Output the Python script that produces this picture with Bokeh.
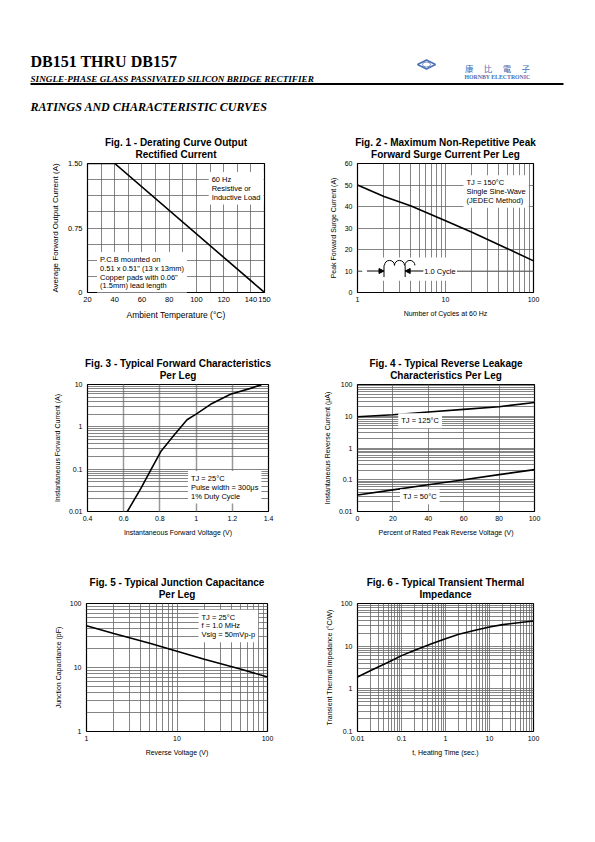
from math import pi
from bokeh.plotting import figure
from bokeh.layouts import column, row
from bokeh.models import (Range1d, FixedTicker, Label, Title, Arrow, NormalHead,
                          CustomJSTickFormatter, BoxAnnotation)
from bokeh.embed import file_html
from bokeh.resources import INLINE
from bokeh.core.properties import value

SANS = "Liberation Sans"
SERIF = "Liberation Serif"

# ---------------- data ----------------
# Fig. 1 derating curve
fig1_temp = [20, 40, 150]
fig1_current = [1.5, 1.5, 0.0]
fig1_x_ticks = [20, 40, 60, 80, 100, 120, 140, 150]
fig1_y_ticks = [0, 0.75, 1.5]
fig1_y_labels = ["0", "0.75", "1.50"]

# Fig. 2 surge current
fig2_cycles = [1, 2, 4, 10, 20, 50, 100]
fig2_surge = [50, 44.7, 40.3, 33.4, 28.0, 20.5, 14.7]
fig2_y_ticks = [0, 10, 20, 30, 40, 50, 60]
cycle_hump_x = [2.31, 3.0, 3.94]
cycle_bar_x = [2.0, 3.48]

# Fig. 3 forward characteristics
fig3_voltage = [0.62, 0.695, 0.75, 0.805, 0.88, 0.95, 1.0, 1.08, 1.19, 1.30, 1.36]
fig3_current = [0.01, 0.035, 0.096, 0.26, 0.65, 1.47, 2.0, 3.4, 5.9, 8.1, 9.8]
fig3_x_ticks = [0.4, 0.6, 0.8, 1.0, 1.2, 1.4]
fig3_y_ticks = [0.01, 0.1, 1, 10]

# Fig. 4 reverse leakage
fig4_percent = [0, 20, 40, 60, 80, 100]
fig4_i_125 = [9.6, 11.2, 13.6, 16.5, 20.0, 27.0]
fig4_i_50 = [0.033, 0.048, 0.070, 0.100, 0.145, 0.209]
fig4_x_ticks = [0, 20, 40, 60, 80, 100]
fig4_y_ticks = [0.01, 0.1, 1, 10, 100]

# Fig. 5 junction capacitance
fig5_voltage = [1, 2, 5, 10, 20, 50, 100]
fig5_cap = [45, 34, 24, 18, 13.5, 9.5, 7.1]
fig5_x_ticks = [1, 10, 100]
fig5_y_ticks = [1, 10, 100]

# Fig. 6 transient thermal impedance
fig6_time = [0.01, 0.02, 0.05, 0.1, 0.2, 0.5, 1, 2, 5, 10, 20, 50, 100]
fig6_z = [1.9, 2.7, 4.2, 6.0, 8.0, 11.5, 15.0, 19.0, 24.0, 28.0, 32.0, 36.0, 39.0]
fig6_x_ticks = [0.01, 0.1, 1, 10, 100]
fig6_y_ticks = [0.1, 1, 10, 100]

OFF = 8  # page offset so the content sits where the reference has it


def log_grid(lo_exp, hi_exp):
    vals = []
    for e in range(lo_exp, hi_exp):
        for m in range(1, 10):
            vals.append(round(m * 10 ** e, 6))
    vals.append(10 ** hi_exp if hi_exp >= 0 else round(10 ** hi_exp, 6))
    return vals


FMT = CustomJSTickFormatter(code="return String(Number(tick.toPrecision(6)));")


def make_fig(width, height, left, right, top, bottom, xr, yr, x_type="linear",
             y_type="linear", tick_size="7px", label_size="7px"):
    p = figure(width=width, height=height, x_range=xr, y_range=yr,
               x_axis_type=x_type, y_axis_type=y_type, output_backend="svg",
               toolbar_location=None, min_border_left=left, min_border_right=right,
               min_border_top=top, min_border_bottom=bottom)
    p.outline_line_color = "black"
    p.outline_line_width = 1.2
    p.outline_line_alpha = 1.0
    p.background_fill_color = "white"
    p.border_fill_color = "white"
    for ax in (p.xaxis[0], p.yaxis[0]):
        ax.axis_line_color = None
        ax.major_tick_line_color = None
        ax.minor_tick_line_color = None
        ax.major_tick_out = 0
        ax.major_tick_in = 0
        ax.minor_tick_out = 0
        ax.minor_tick_in = 0
        ax.major_label_text_font = SANS
        ax.major_label_text_font_size = tick_size
        ax.major_label_text_color = "black"
        ax.axis_label_text_font = SANS
        ax.axis_label_text_font_style = "normal"
        ax.axis_label_text_font_size = label_size
        ax.axis_label_text_color = "black"
    p.xaxis[0].major_label_standoff = 4
    p.yaxis[0].major_label_standoff = 5
    p.xaxis[0].axis_label_standoff = 5
    p.yaxis[0].axis_label_standoff = 5
    for g in (p.xgrid[0], p.ygrid[0]):
        g.grid_line_color = "#666666"
        g.grid_line_width = 0.8
    return p


def add_titles(p, lines):
    # lower line first (closest to the frame), then the upper line
    p.add_layout(Title(text=lines[1], align="center", text_font=SANS,
                       text_font_size="10px", text_font_style="bold",
                       text_color="black", standoff=7, offset=0), "above")
    p.add_layout(Title(text=lines[0], align="center", text_font=SANS,
                       text_font_size="10px", text_font_style="bold",
                       text_color="black", standoff=-8, offset=0), "above")


def box_label(p, x, y, text, size="7.5px", anchor="top_left"):
    lab = Label(x=x, y=y, text=text, text_font=SANS, text_font_size=size,
                text_color="black", anchor=anchor, text_align="left",
                background_fill_color="white", background_fill_alpha=1.0,
                padding=3, text_line_height=0.97)
    p.add_layout(lab)
    return lab


# ---------------- header ----------------
head = figure(width=587, height=128, x_range=Range1d(0, 587), y_range=Range1d(128, 0),
              output_backend="svg", toolbar_location=None, min_border=0)
head.axis.visible = False
head.grid.visible = False
head.outline_line_color = None
head.text(x=[30], y=[61], text=["DB151 THRU DB157"], text_font=value(SERIF),
          text_font_size="16px", text_font_style="bold", text_baseline="alphabetic")
head.text(x=[30], y=[78.3], text=["SINGLE-PHASE GLASS PASSIVATED SILICON BRIDGE RECTIFIER"],
          text_font=value(SERIF), text_font_size="9.2px", text_font_style="bold italic",
          text_baseline="alphabetic")
head.segment(x0=[30], y0=[83.5], x1=[563], y1=[83.5], line_color="black", line_width=2)
head.text(x=[30], y=[106.7], text=["RATINGS AND CHARACTERISTIC CURVES"],
          text_font=value(SERIF), text_font_size="12px", text_font_style="bold italic",
          text_baseline="alphabetic")
head.patch([417, 426, 435, 426], [64, 59.5, 64, 68.5], fill_color=None,
           line_color="#4a6fb5", line_width=1.5)
head.ellipse(x=[426], y=[64], width=8, height=5, fill_color=None, line_color="#4a6fb5",
             line_width=0.8)
head.text(x=[497], y=[67.5], text=["康　 比　 電　 子"], text_font=value("Noto Sans CJK TC"),
          text_font_size="8.5px", text_color="#4a6fb5", text_align="center",
          text_baseline="alphabetic")
head.text(x=[497], y=[76], text=["HORNBY ELECTRONIC"], text_font=value(SERIF),
          text_font_size="5.8px", text_font_style="bold", text_color="#4a6fb5",
          text_align="center", text_baseline="alphabetic")

# ---------------- Fig. 1 ----------------
f1 = make_fig(292 + OFF, 220, 79 + OFF, 36, 34, 56, Range1d(20, 150), Range1d(0, 1.5),
              tick_size="7.5px", label_size="8px")
f1.xaxis[0].ticker = FixedTicker(ticks=fig1_x_ticks)
f1.yaxis[0].ticker = FixedTicker(ticks=fig1_y_ticks)
f1.yaxis[0].major_label_overrides = dict(zip(fig1_y_ticks, fig1_y_labels))
f1.xgrid[0].ticker = FixedTicker(ticks=list(range(20, 151, 10)))
f1.ygrid[0].ticker = FixedTicker(ticks=[i * 0.1875 for i in range(9)])
f1.xaxis[0].axis_label = "Ambient Temperature (°C)"
f1.xaxis[0].axis_label_text_font_size = "8.5px"
f1.yaxis[0].axis_label = "Average Forward Output Current (A)"
f1.line(fig1_temp, fig1_current, line_color="black", line_width=1.6)
box_label(f1, 109, 1.40, "60 Hz\nResistive or\nInductive Load")
box_label(f1, 27, 0.47, "P.C.B mounted on\n0.51 x 0.51\" (13 x 13mm)\nCopper pads with 0.06\"\n(1.5mm) lead length")
add_titles(f1, ["Fig. 1 - Derating Curve Output", "Rectified Current"])

# ---------------- Fig. 2 ----------------
f2 = make_fig(287, 220, 57, 54, 35, 53, Range1d(1, 100), Range1d(0, 60), x_type="log")
f2.xaxis[0].ticker = FixedTicker(ticks=[1, 10, 100])
f2.xaxis[0].formatter = FMT
f2.yaxis[0].ticker = FixedTicker(ticks=fig2_y_ticks)
f2.xgrid[0].ticker = FixedTicker(ticks=log_grid(0, 2))
f2.xaxis[0].axis_label = "Number of Cycles at 60 Hz"
f2.yaxis[0].axis_label = "Peak Forward Surge Current (A)"
f2.add_layout(BoxAnnotation(left=1.13, right=13.5, bottom=5.5, top=16.3, fill_color="white",
                            fill_alpha=1.0, line_color=None, level="underlay"))
f2.segment(x0=[1.0, 13.5], y0=[10, 10], x1=[1.13, 100], y1=[10, 10], line_color="#666666",
           line_width=0.8)
f2.line(fig2_cycles, fig2_surge, line_color="black", line_width=1.6)
f2.arc(x=cycle_hump_x, y=12.6, radius=5, radius_units="screen", start_angle=0,
       end_angle=pi, line_color="black", line_width=1)
f2.segment(x0=cycle_bar_x, y0=7.2, x1=cycle_bar_x, y1=12.6, line_color="black", line_width=1)
f2.add_layout(Arrow(end=NormalHead(size=5, fill_color="black", line_color="black"),
                    x_start=1.28, y_start=10, x_end=cycle_bar_x[0], y_end=10,
                    line_color="black", line_width=1))
f2.add_layout(Arrow(end=NormalHead(size=5, fill_color="black", line_color="black"),
                    x_start=5.6, y_start=10, x_end=cycle_bar_x[1], y_end=10,
                    line_color="black", line_width=1))
f2.add_layout(Label(x=5.75, y=10, text="1.0 Cycle", text_font=SANS, text_font_size="7.5px",
                    text_baseline="middle", text_color="black"))
box_label(f2, 16.0, 54.5, "TJ = 150°C\nSingle Sine-Wave\n(JEDEC Method)")
add_titles(f2, ["Fig. 2 - Maximum Non-Repetitive Peak", "Forward Surge Current Per Leg"])

# ---------------- Fig. 3 ----------------
f3 = make_fig(292 + OFF, 215, 79 + OFF, 32, 36, 51, Range1d(0.4, 1.4), Range1d(0.01, 10),
              y_type="log")
f3.xaxis[0].ticker = FixedTicker(ticks=fig3_x_ticks)
f3.yaxis[0].ticker = FixedTicker(ticks=fig3_y_ticks)
f3.yaxis[0].formatter = FMT
f3.xgrid[0].ticker = FixedTicker(ticks=[0.6, 0.8, 1.0, 1.2])
f3.xgrid[0].grid_line_color = "#999999"
f3.xgrid[0].grid_line_width = 1.5
f3.ygrid[0].ticker = FixedTicker(ticks=log_grid(-2, 1))
f3.xaxis[0].axis_label = "Instantaneous Forward Voltage (V)"
f3.yaxis[0].axis_label = "Instantaneous Forward Current (A)"
f3.line(fig3_voltage, fig3_current, line_color="black", line_width=1.6)
box_label(f3, 0.955, 0.09, "TJ = 25°C\nPulse width = 300μs\n1% Duty Cycle")
add_titles(f3, ["Fig. 3 - Typical Forward Characteristics", "Per Leg"])

# ---------------- Fig. 4 ----------------
f4 = make_fig(287, 215, 57, 53, 35, 52, Range1d(0, 100), Range1d(0.01, 100), y_type="log")
f4.xaxis[0].ticker = FixedTicker(ticks=fig4_x_ticks)
f4.yaxis[0].ticker = FixedTicker(ticks=fig4_y_ticks)
f4.yaxis[0].formatter = FMT
f4.xgrid[0].ticker = FixedTicker(ticks=[20, 40, 60, 80])
f4.ygrid[0].ticker = FixedTicker(ticks=log_grid(-2, 2))
f4.xaxis[0].axis_label = "Percent of Rated Peak Reverse Voltage (V)"
f4.yaxis[0].axis_label = "Instantaneous Reverse Current (μA)"
f4.line(fig4_percent, fig4_i_125, line_color="black", line_width=1.6)
f4.line(fig4_percent, fig4_i_50, line_color="black", line_width=1.6)
box_label(f4, 23, 7.2, "TJ = 125°C", anchor="center_left")
box_label(f4, 24, 0.0294, "TJ = 50°C", anchor="center_left")
add_titles(f4, ["Fig. 4 - Typical Reverse Leakage", "Characteristics Per Leg"])

# ---------------- Fig. 5 ----------------
f5 = make_fig(292 + OFF, 210, 78 + OFF, 33, 40, 41, Range1d(1, 100), Range1d(1, 100),
              x_type="log", y_type="log")
f5.xaxis[0].ticker = FixedTicker(ticks=fig5_x_ticks)
f5.yaxis[0].ticker = FixedTicker(ticks=fig5_y_ticks)
f5.xaxis[0].formatter = FMT
f5.yaxis[0].formatter = FMT
f5.xgrid[0].ticker = FixedTicker(ticks=log_grid(0, 2))
f5.ygrid[0].ticker = FixedTicker(ticks=log_grid(0, 2))
f5.xaxis[0].axis_label = "Reverse Voltage (V)"
f5.yaxis[0].axis_label = "Junction Capacitance (pF)"
f5.line(fig5_voltage, fig5_cap, line_color="black", line_width=1.6)
box_label(f5, 17.3, 80, "TJ = 25°C\nf = 1.0 MHz\nVsig = 50mVp-p")
add_titles(f5, ["Fig. 5 - Typical Junction Capacitance", "Per Leg"])

# ---------------- Fig. 6 ----------------
f6 = make_fig(287, 210, 57, 54, 40, 42, Range1d(0.01, 100), Range1d(0.1, 100),
              x_type="log", y_type="log")
f6.xaxis[0].ticker = FixedTicker(ticks=fig6_x_ticks)
f6.yaxis[0].ticker = FixedTicker(ticks=fig6_y_ticks)
f6.xaxis[0].formatter = FMT
f6.yaxis[0].formatter = FMT
f6.xgrid[0].ticker = FixedTicker(ticks=log_grid(-2, 2))
f6.ygrid[0].ticker = FixedTicker(ticks=log_grid(-1, 2))
f6.xaxis[0].axis_label = "t, Heating Time (sec.)"
f6.yaxis[0].axis_label = "Transient Thermal Impedance (°C/W)"
f6.line(fig6_time, fig6_z, line_color="black", line_width=1.6)
add_titles(f6, ["Fig. 6 - Typical Transient Thermal", "Impedance"])

page = column(head, row(f1, f2), row(f3, f4), row(f5, f6))
open("out.html", "w").write(file_html(page, INLINE))
